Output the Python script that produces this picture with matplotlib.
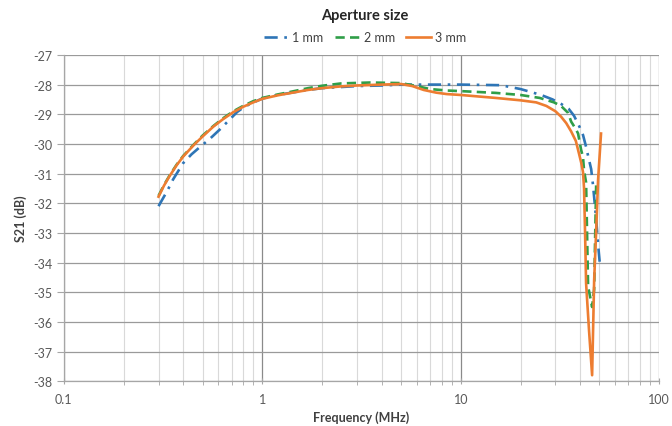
import matplotlib
matplotlib.use("Agg")
import matplotlib.pyplot as plt
from matplotlib.ticker import LogLocator, FixedLocator, NullFormatter

plt.rcParams['font.family'] = ['Lato', 'DejaVu Sans']

# ---- data ----
f_1mm = [0.30, 0.315, 0.331, 0.355, 0.399, 0.44, 0.486, 0.55, 0.614, 0.689, 0.748, 0.80, 0.869,
         1.0, 1.2, 1.38, 1.7, 2.0, 3.0, 4.0, 5.0, 7.0, 10, 15.9, 20, 25.4, 29, 32, 35, 37.2,
         39.5, 41.3, 42.8, 43.8, 45.4, 46.4, 47.0, 48.2, 49.2, 50.3]
s_1mm = [-32.1, -31.85, -31.6, -31.2, -30.65, -30.35, -30.1, -29.8, -29.5, -29.16, -28.92, -28.78,
         -28.65, -28.47, -28.35, -28.28, -28.18, -28.12, -28.05, -28.03, -28.0, -28.0, -28.0, -28.02,
         -28.15, -28.35, -28.5, -28.65, -28.82, -29.05, -29.4, -29.7, -30.1, -30.4, -30.85, -31.4,
         -31.8, -32.6, -33.4, -34.1]

f_2mm = [0.30, 0.32, 0.34, 0.37, 0.40, 0.45, 0.50, 0.566, 0.63, 0.714, 0.80, 0.90, 1.0, 1.2,
         1.4, 1.7, 2.0, 2.5, 3.5, 5.0, 6.0, 7.0, 8.5, 10, 15, 20, 25, 29.5, 32, 34.7, 36, 38, 39.0,
         40.4, 41.3, 41.8, 42.8, 43.8, 45.9, 47.0, 48.1]
s_2mm = [-31.75, -31.38, -31.08, -30.7, -30.4, -30.03, -29.72, -29.4, -29.15, -28.9, -28.72,
         -28.56, -28.45, -28.33, -28.24, -28.12, -28.04, -27.96, -27.93, -27.95, -28.05, -28.15,
         -28.2, -28.22, -28.28, -28.35, -28.45, -28.6, -28.72, -28.95, -29.25, -29.5, -29.65,
         -30.2, -30.45, -30.9, -31.3, -34.8, -35.5, -34.9, -31.4]

f_3mm = [0.30, 0.32, 0.34, 0.37, 0.40, 0.45, 0.50, 0.566, 0.63, 0.714, 0.80, 0.90, 1.0, 1.2,
         1.4, 1.7, 2.0, 2.5, 3.0, 4.0, 5.0, 5.7, 6.5, 7.5, 8.5, 10, 15, 20, 24, 27, 30, 32, 34,
         36, 38, 39.5, 40.5, 41.3, 41.8, 42.3, 42.8, 44.3, 45.9, 47.0, 48.2, 49.2, 50.9]
s_3mm = [-31.78, -31.4, -31.1, -30.72, -30.42, -30.05, -29.75, -29.42, -29.18, -28.93, -28.75,
         -28.6, -28.48, -28.36, -28.28, -28.18, -28.12, -28.06, -28.03, -28.0, -27.98, -28.05,
         -28.18, -28.27, -28.32, -28.35, -28.45, -28.53, -28.6, -28.72, -28.9, -29.08, -29.3,
         -29.58, -29.9, -30.35, -30.65, -30.95, -31.5, -33.0, -34.7, -36.3, -37.8, -34.6, -32.8,
         -31.2, -29.65]

labels = ["1 mm", "2 mm", "3 mm"]
colors = ["#2E75B6", "#2F9E48", "#ED7D31"]
y_ticks = list(range(-38, -26))
x_ticks = [0.1, 1, 10, 100]
x_ticklabels = ["0.1", "1", "10", "100"]

fig = plt.figure(figsize=(6.72, 4.27), dpi=100)
ax = fig.add_axes([0.095, 0.105, 0.886, 0.764])

ax.plot(f_1mm, s_1mm, color=colors[0], lw=1.9, dashes=(5, 2.5, 1, 2.5), label=labels[0], zorder=3)
ax.plot(f_2mm, s_2mm, color=colors[1], lw=1.9, dashes=(3.5, 2), label=labels[1], zorder=4)
ax.plot(f_3mm, s_3mm, color=colors[2], lw=1.9, label=labels[2], zorder=5)

ax.set_xscale('log')
ax.set_xlim(0.1, 100)
ax.set_ylim(-38, -27)
ax.xaxis.set_major_locator(FixedLocator(x_ticks))
ax.set_xticklabels(x_ticklabels)
ax.xaxis.set_minor_locator(LogLocator(base=10, subs=range(2, 10)))
ax.xaxis.set_minor_formatter(NullFormatter())
ax.set_yticks(y_ticks)
ax.set_yticklabels([str(v) for v in y_ticks])

ax.grid(True, which='major', axis='x', color='#8a8a8a', lw=0.9)
ax.grid(True, which='minor', axis='x', color='#d9d9d9', lw=0.8)
ax.grid(True, which='major', axis='y', color='#9a9a9a', lw=0.9)
ax.set_axisbelow(True)

for s in ['top', 'right']:
    ax.spines[s].set_visible(False)
for s in ['left', 'bottom']:
    ax.spines[s].set_color('#a6a6a6')
    ax.spines[s].set_linewidth(0.9)

ax.tick_params(axis='both', which='both', color='#a6a6a6', labelcolor='#595959', labelsize=9)
ax.tick_params(axis='y', which='major', length=5, direction='out')
ax.tick_params(axis='x', which='major', length=5, direction='inout')
ax.tick_params(axis='x', which='minor', length=3, direction='out')
ax.tick_params(axis='x', pad=6)

ax.set_xlabel("Frequency (MHz)", fontsize=9, fontweight='bold', color='#404040', labelpad=4)
ax.set_ylabel("S21 (dB)", fontsize=9, fontweight='bold', color='#404040', labelpad=4)

fig.text(0.543, 0.962, "Aperture size", ha='center', va='center', fontsize=10.5,
         fontweight='bold', color='#262626')
leg = fig.legend(loc='center', bbox_to_anchor=(0.543, 0.91), ncol=3, frameon=False,
                 fontsize=9, handlelength=2.0, handletextpad=0.3, columnspacing=0.9)
for t in leg.get_texts():
    t.set_color('#404040')

fig.savefig("out.png", dpi=100)
